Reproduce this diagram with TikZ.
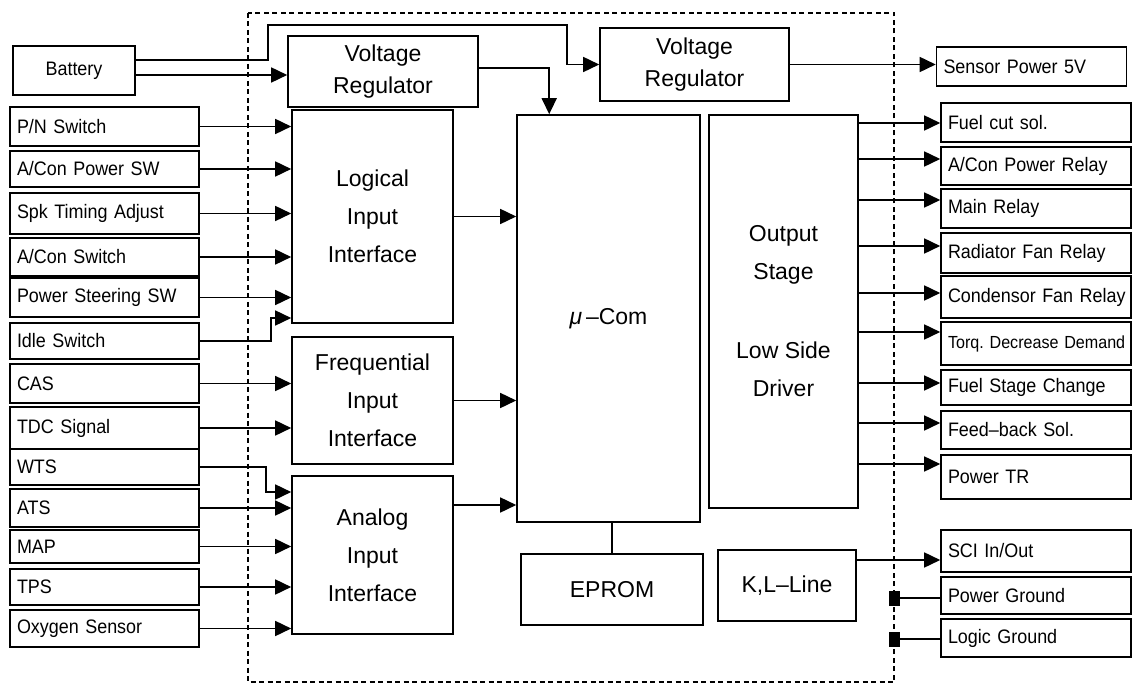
\documentclass[tikz,border=0pt]{standalone}
\usepackage{fontspec}
\setmainfont{Liberation Sans}
\newfontfamily\lblfam[FakeStretch=0.92]{Liberation Sans}
\usetikzlibrary{arrows.meta,calc}
\newcommand\nb[1]{\mbox{#1}}
\newcommand\lfont{\lblfam\fontsize{19.5}{22}\selectfont\frenchspacing\spaceskip=0.4em\relax}
\newcommand\sfontx{\lblfam\fontsize{17.5}{20}\selectfont\frenchspacing\spaceskip=0.4em\relax}
\newcommand\bfont{\fontsize{23}{38}\selectfont}
\newcommand\vfont{\fontsize{23}{31.5}\selectfont}
\begin{document}
\begin{tikzpicture}[x=1pt,y=-1pt,
  every node/.style={inner sep=0pt},
  ln/.style={line width=1.6pt},
  arr/.style={ln,-{Triangle[length=16pt,width=15pt]}},
  lbox/.style={draw,ln,text width=175pt,inner xsep=7pt,inner ysep=0pt,align=left,font=\lfont},
  rbox/.style={draw,ln,text width=176pt,inner xsep=7pt,inner ysep=0pt,align=left,font=\lfont},
  bbox/.style={draw,ln,align=center,font=\bfont},
  gnd/.style={fill=black,minimum width=11pt,minimum height=15pt},
]
\useasboundingbox (0,0) rectangle (1134,684);

% ECU boundary
\draw[line width=1.5pt,dash pattern=on 5pt off 3.5pt] (248,13) rectangle (894,682);

% inner blocks
\node[bbox,font=\vfont,minimum width=190pt,minimum height=71pt] (vr1) at (383,71.5) {Voltage\\Regulator};
\node[bbox,font=\vfont,minimum width=189pt,minimum height=73pt] (vr2) at (694.5,64.5) {Voltage\\Regulator};
\node[bbox,minimum width=161pt,minimum height=213pt] (lii) at (372.5,216.5) {Logical\\Input\\Interface};
\node[bbox,minimum width=161pt,minimum height=127pt] (fii) at (372.5,400.5) {Frequential\\Input\\Interface};
\node[bbox,minimum width=161pt,minimum height=158pt] (aii) at (372.5,555) {Analog\\Input\\Interface};
\node[bbox,minimum width=183pt,minimum height=407pt] (mc) at (608.5,318.5) {\textit{μ}\,–Com};
\node[bbox,minimum width=149pt,minimum height=393pt] (os) at (783.5,311.5) {Output\\Stage\\[41pt]Low Side\\Driver};
\node[bbox,minimum width=182pt,minimum height=71pt] (ep) at (612,589.5) {EPROM};
\node[bbox,minimum width=138pt,minimum height=71pt] (kl) at (787,585.5) {K,L–Line};

% input boxes
\node[draw,ln,font=\lfont,minimum width=122pt,minimum height=49pt] (bat) at (74,70.5) {Battery};
\node[lbox,minimum height=39pt] (pn)   at (104.5,126.5) {\nb{P/N Switch}};
\node[lbox,minimum height=36pt] (acp)  at (104.5,169)   {\nb{A/Con Power SW}};
\node[lbox,minimum height=41pt] (spk)  at (104.5,213.5) {\nb{Spk Timing Adjust}};
\node[lbox,minimum height=38pt] (acs)  at (104.5,257)   {\nb{A/Con Switch}};
\node[lbox,minimum height=39pt] (pss)  at (104.5,297.5) {\nb{Power Steering SW}};
\node[lbox,minimum height=36pt] (idle) at (104.5,341)   {\nb{Idle Switch}};
\node[lbox,minimum height=39pt] (cas)  at (104.5,383.5) {\nb{CAS}};
\node[lbox,minimum height=42pt] (tdc)  at (104.5,428)   {\nb{TDC Signal}};
\node[lbox,minimum height=36pt] (wts)  at (104.5,467)   {\nb{WTS}};
\node[lbox,minimum height=38pt] (ats)  at (104.5,508)   {\nb{ATS}};
\node[lbox,minimum height=33pt] (map)  at (104.5,546.5) {\nb{MAP}};
\node[lbox,minimum height=36pt] (tps)  at (104.5,587)   {\nb{TPS}};
\node[lbox,minimum height=37pt] (oxy)  at (104.5,628.5) {\nb{Oxygen Sensor}};

% output boxes
\node[rbox,minimum height=39pt] (sp)  at (1031.5,66.5) {\nb{Sensor Power 5V}};
\node[rbox,minimum height=39pt] (fc)  at (1036,122.5) {\nb{Fuel cut sol.}};
\node[rbox,minimum height=38pt] (acr) at (1036,166)   {\nb{A/Con Power Relay}};
\node[rbox,minimum height=39pt] (mr)  at (1036,208.5) {\nb{Main Relay}};
\node[rbox,minimum height=40pt] (rfr) at (1036,253)   {\nb{Radiator Fan Relay}};
\node[rbox,minimum height=42pt] (cfr) at (1036,297)   {\nb{Condensor Fan Relay}};
\node[rbox,minimum height=43pt,font=\sfontx] (tdd) at (1036,343.5) {\nb{Torq. Decrease Demand}};
\node[rbox,minimum height=35pt] (fsc) at (1036,387.5) {\nb{Fuel Stage Change}};
\node[rbox,minimum height=38pt] (fbs) at (1036,430)   {\nb{Feed–back Sol.}};
\node[rbox,minimum height=44pt] (ptr) at (1036,477)   {\nb{Power TR}};
\node[rbox,minimum height=42pt] (sci) at (1036,551)   {\nb{SCI In/Out}};
\node[rbox,minimum height=37pt] (pg)  at (1036,595.5) {\nb{Power Ground}};
\node[rbox,minimum height=38pt] (lg)  at (1036,638)   {\nb{Logic Ground}};

% power supply wiring
\coordinate (b1) at ($(bat.east)+(0,-10.5)$);
\coordinate (b2) at ($(bat.east)+(0,4.5)$);
\draw[arr] (b1) -| (268,25) -| (567,64.5) -- (vr2.west);
\draw[arr] (b2) -- (b2 -| vr1.west);
\draw[arr] ($(vr1.east)+(0,-3.5)$) -| ($(mc.north west)+(33,0)$);
\draw[arr] (vr2.east) -- (vr2.east -| sp.west);

% inputs
\foreach \n in {pn,acp,spk,acs,pss} \draw[arr] (\n.east) -- (\n.east -| lii.west);
\draw[arr] (idle.east) -| (271,318) -- (lii.west |- 0,318);
\foreach \n in {cas,tdc} \draw[arr] (\n.east) -- (\n.east -| fii.west);
\draw[arr] (wts.east) -| (266,492) -- (aii.west |- 0,492);
\foreach \n in {ats,map,tps,oxy} \draw[arr] (\n.east) -- (\n.east -| aii.west);

% interfaces to micro
\draw[arr] (lii.east) -- (lii.east -| mc.west);
\draw[arr] (fii.east) -- (fii.east -| mc.west);
\draw[arr] (aii.east |- 0,505) -- (mc.west |- 0,505);
\draw[ln] (ep.north) -- (ep.north |- mc.south);

% outputs
\foreach \n/\y in {fc/123,acr/159,mr/200,rfr/246,cfr/293,tdd/332,fsc/383,fbs/423,ptr/464}
  \draw[arr] (os.east |- 0,\y) -- (\n.west |- 0,\y);
\draw[arr] (kl.east |- 0,560) -- (sci.west |- 0,560);

% grounds
\node[gnd] (g1) at (894,598) {};
\node[gnd] (g2) at (894,639) {};
\draw[ln] (g1.east) -- (g1.east -| pg.west);
\draw[ln] (g2.east) -- (g2.east -| lg.west);
\end{tikzpicture}
\end{document}
